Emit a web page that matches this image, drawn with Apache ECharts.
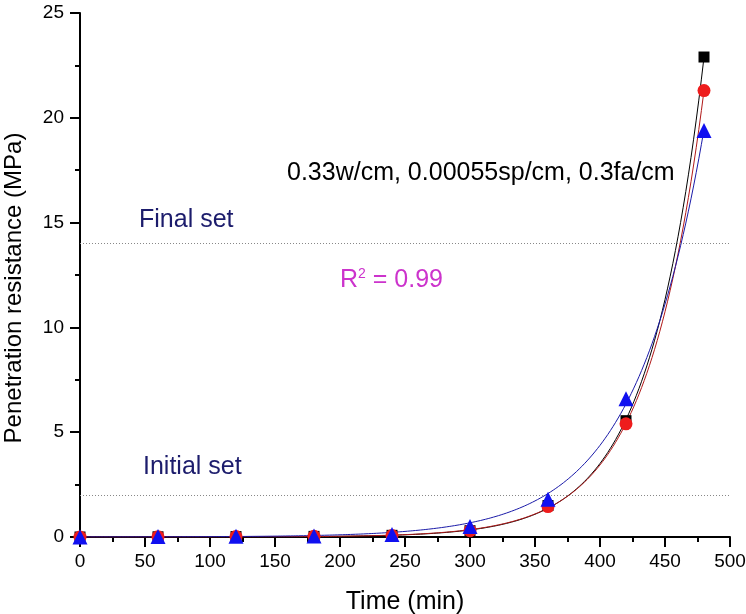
<!DOCTYPE html>
<html>
<head>
<meta charset="utf-8">
<script src="https://cdn.jsdelivr.net/npm/echarts@6/dist/echarts.min.js"></script>
<style>
  html, body { margin: 0; padding: 0; background: #fff; }
  #chart { width: 746px; height: 614px; }
</style>
</head>
<body>
<div id="chart"></div>
<script>
// Penetration resistance measured over time (three specimens)
const times = [0, 60, 120, 180, 240, 300, 360, 420, 480];
const seriesSquare = [0, 0.01, 0.02, 0.03, 0.08, 0.3, 1.5, 5.55, 22.9];
const seriesCircle = [0, 0.01, 0.02, 0.03, 0.07, 0.3, 1.45, 5.4, 21.3];
const seriesTriangle = [0, 0.02, 0.03, 0.05, 0.12, 0.5, 1.8, 6.6, 19.4];

// Setting-time thresholds (MPa)
const initialSet = 2;
const finalSet = 14;

const xTicks = [0, 50, 100, 150, 200, 250, 300, 350, 400, 450, 500];
const yTicks = [0, 5, 10, 15, 20, 25];

// Least-squares exponential fit y = a * exp(b * x)
function fitExp(xs, ys) {
  let best = null;
  for (let b = 0.001; b <= 0.05; b += 0.00001) {
    let num = 0, den = 0;
    for (let i = 0; i < xs.length; i++) {
      const e = Math.exp(b * xs[i]);
      num += ys[i] * e; den += e * e;
    }
    const a = num / den;
    let sse = 0;
    for (let i = 0; i < xs.length; i++) {
      const r = ys[i] - a * Math.exp(b * xs[i]);
      sse += r * r;
    }
    if (!best || sse < best.sse) best = { a, b, sse };
  }
  return best;
}
function curve(xs, ys) {
  const f = fitExp(xs, ys);
  const pts = [];
  for (let x = xs[0]; x <= xs[xs.length - 1]; x += 2) pts.push([x, f.a * Math.exp(f.b * x)]);
  return pts;
}
const pairs = ys => times.map((t, i) => [t, ys[i]]);

const font = 'Liberation Sans, Arial, sans-serif';
const chart = echarts.init(document.getElementById('chart'));

chart.setOption({
  animation: false,
  backgroundColor: '#fff',
  grid: { left: 80, right: 16, top: 13, bottom: 77, containLabel: false, outerBoundsMode: 'none' },
  xAxis: {
    type: 'value', min: 0, max: 500, interval: 50,
    name: 'Time (min)', nameLocation: 'middle', nameGap: 53,
    nameTextStyle: { fontFamily: font, fontSize: 25, color: '#000' },
    axisLine: { lineStyle: { color: '#000', width: 2 } },
    axisTick: { inside: false, length: 10, lineStyle: { color: '#000', width: 2 } },
    minorTick: { show: true, splitNumber: 2, length: 5, lineStyle: { color: '#000', width: 2 } },
    axisLabel: { fontFamily: font, fontSize: 19, color: '#000', margin: 15 },
    splitLine: { show: false }
  },
  yAxis: {
    type: 'value', min: 0, max: 25, interval: 5,
    axisLine: { show: true, lineStyle: { color: '#000', width: 2 } },
    axisTick: { show: true, inside: false, length: 10, lineStyle: { color: '#000', width: 2 } },
    minorTick: { show: true, splitNumber: 2, length: 5, lineStyle: { color: '#000', width: 2 } },
    axisLabel: { fontFamily: font, fontSize: 19, color: '#000', margin: 16 },
    splitLine: { show: false }
  },
  series: [
    {
      type: 'line', data: curve(times, seriesSquare), showSymbol: false, silent: true,
      lineStyle: { color: '#000', width: 1 }, z: 2,
      markLine: {
        silent: true, symbol: 'none', label: { show: false },
        lineStyle: { color: '#888', type: [1, 2], width: 1 },
        data: [{ yAxis: finalSet }, { yAxis: initialSet }]
      }
    },
    {
      type: 'line', data: curve(times, seriesCircle), showSymbol: false, silent: true,
      lineStyle: { color: '#b01818', width: 1 }, z: 2
    },
    {
      type: 'line', data: curve(times, seriesTriangle), showSymbol: false, silent: true,
      lineStyle: { color: '#1a1aa8', width: 1 }, z: 2
    },
    {
      type: 'scatter', data: pairs(seriesSquare), symbol: 'rect', symbolSize: 11,
      itemStyle: { color: '#000', opacity: 1 }, z: 3
    },
    {
      type: 'scatter', data: pairs(seriesCircle), symbol: 'circle', symbolSize: 13,
      itemStyle: { color: '#ee1c1c', opacity: 1 }, z: 4
    },
    {
      type: 'scatter', data: pairs(seriesTriangle), symbol: 'triangle', symbolSize: 15,
      itemStyle: { color: '#1010f0', opacity: 1 }, z: 5
    }
  ],
  graphic: [
    { type: 'text', x: 14, y: 288, rotation: Math.PI / 2, style: {
        text: 'Penetration resistance (MPa)', font: '24px ' + font, fill: '#000',
        align: 'center', verticalAlign: 'middle' } },
    { type: 'text', x: 139, y: 220, style: { text: 'Final set', font: '25px ' + font, fill: '#1c1c6c', verticalAlign: 'middle' } },
    { type: 'text', x: 143, y: 467, style: { text: 'Initial set', font: '25px ' + font, fill: '#1c1c6c', verticalAlign: 'middle' } },
    { type: 'text', x: 287, y: 173, style: { text: '0.33w/cm, 0.00055sp/cm, 0.3fa/cm', font: '25px ' + font, fill: '#000', verticalAlign: 'middle' } },
    { type: 'text', x: 340, y: 280, style: {
        verticalAlign: 'middle',
        text: '{r|R}{s|2}{r| = 0.99}',
        rich: {
          r: { font: '25px ' + font, fill: '#cc33cc', color: '#cc33cc' },
          s: { font: '14px ' + font, fill: '#cc33cc', color: '#cc33cc', verticalAlign: 'top', padding: [0, 0, 10, 0] }
        }
      } }
  ]
});
</script>
</body>
</html>
